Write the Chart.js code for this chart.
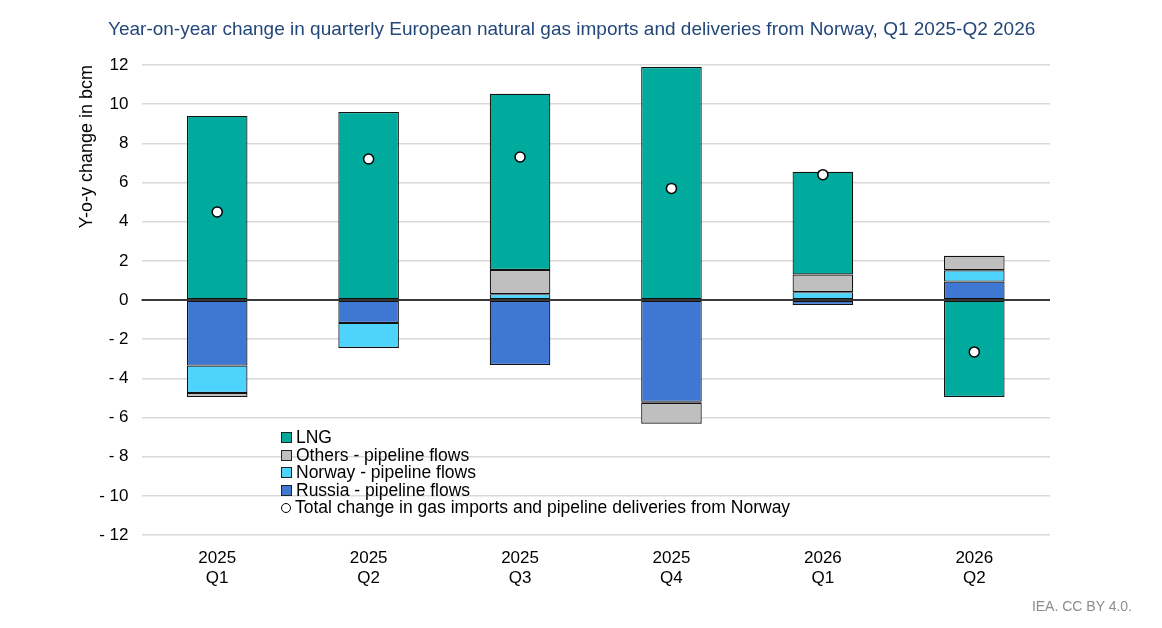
<!DOCTYPE html>
<html>
<head>
<meta charset="utf-8">
<script src="https://cdn.jsdelivr.net/npm/chart.js@4.4.1/dist/chart.umd.min.js"></script>
<style>
  html, body { margin: 0; padding: 0; background: #fff; }
  #wrap { position: relative; width: 1162px; height: 628px; font-family: "Liberation Sans", Arial, sans-serif; }
  #title { position: absolute; left: 108px; top: 18px; font-size: 19px; color: #24477A; white-space: nowrap; }
  #legend { position: absolute; left: 281px; top: 429px; font-size: 17.5px; color: #000; line-height: 17.5px; }
  #legend div { display: flex; align-items: center; white-space: nowrap; }
  #legend .sw { width: 9px; height: 9px; border: 1px solid #222; margin-right: 4px; }
  #legend .dot { width: 8px; height: 8px; border: 1.5px solid #000; border-radius: 50%; margin-right: 4px; background: #fff; }
  #source { position: absolute; right: 30px; top: 598px; font-size: 14px; color: #8c8c8c; }
</style>
</head>
<body>
<div id="wrap">
  <canvas id="c" width="1162" height="628"></canvas>
  <div id="title">Year-on-year change in quarterly European natural gas imports and deliveries from Norway, Q1 2025-Q2 2026</div>
  <div id="legend"></div>
  <div id="source">IEA. CC BY 4.0.</div>
</div>
<script>
// quarters on the x axis
const years = ['2025', '2025', '2025', '2025', '2026', '2026'];
const quarters = ['Q1', 'Q2', 'Q3', 'Q4', 'Q1', 'Q2'];

// y-o-y change in bcm
const russia = [-3.35, -1.17, -3.32, -5.2, -0.25, 0.94];
const norway = [-1.4, -1.28, 0.3, -0.05, 0.4, 0.58];
const others = [-0.2, null, 1.23, -1.07, 0.9, 0.74];
const lng = [9.4, 9.6, 9.0, 11.9, 5.25, -4.95];
const total = [4.5, 7.2, 7.3, 5.7, 6.4, -2.65];

const colors = {
    lng: '#00AA9D',
    others: '#BFBFBF',
    norway: '#4DD3FC',
    russia: '#3E78D3'
};

const labels = years.map((y, i) => [y, quarters[i]]);

// legend, same order as the reference (top to bottom)
const legendItems = [
    { text: 'LNG', color: colors.lng },
    { text: 'Others - pipeline flows', color: colors.others },
    { text: 'Norway - pipeline flows', color: colors.norway },
    { text: 'Russia - pipeline flows', color: colors.russia }
];
const legendEl = document.getElementById('legend');
legendItems.forEach(item => {
    const row = document.createElement('div');
    row.innerHTML = `<span class="sw" style="background:${item.color}"></span><span>${item.text}</span>`;
    legendEl.appendChild(row);
});
const totRow = document.createElement('div');
totRow.innerHTML = '<span class="dot"></span><span>Total change in gas imports and pipeline deliveries from Norway</span>';
legendEl.appendChild(totRow);

// zero line drawn over the bars
const zeroLine = {
    id: 'zeroLine',
    afterDatasetsDraw(chart) {
        const y = chart.scales.y.getPixelForValue(0);
        const ctx = chart.ctx;
        ctx.save();
        ctx.strokeStyle = '#000';
        ctx.lineWidth = 1.5;
        ctx.beginPath();
        ctx.moveTo(chart.chartArea.left, y);
        ctx.lineTo(chart.chartArea.right, y);
        ctx.stroke();
        ctx.restore();
    }
};

const barDs = (label, data, color) => ({
    type: 'bar',
    label,
    data,
    backgroundColor: color,
    borderColor: '#111',
    borderWidth: 1.2,
    borderSkipped: false,
    barPercentage: 0.4,
    categoryPercentage: 1,
    order: 2
});

Chart.defaults.font.family = '"Liberation Sans", Arial, sans-serif';
Chart.defaults.color = '#000';

new Chart(document.getElementById('c').getContext('2d'), {
    data: {
        labels,
        datasets: [
            barDs('Russia - pipeline flows', russia, colors.russia),
            barDs('Norway - pipeline flows', norway, colors.norway),
            barDs('Others - pipeline flows', others, colors.others),
            barDs('LNG', lng, colors.lng),
            {
                type: 'line',
                label: 'Total change in gas imports and pipeline deliveries from Norway',
                data: total,
                stack: 'total',
                showLine: false,
                pointRadius: 5,
                pointBackgroundColor: '#fff',
                pointBorderColor: '#000',
                pointBorderWidth: 1.5,
                order: 0
            }
        ]
    },
    options: {
        responsive: false,
        animation: false,
        layout: { padding: { left: 72, top: 65, right: 112, bottom: 33 } },
        plugins: {
            legend: { display: false },
            tooltip: { enabled: false }
        },
        scales: {
            x: {
                stacked: true,
                grid: { display: false, drawTicks: false },
                border: { display: false },
                ticks: { font: { size: 17 }, padding: 13, maxRotation: 0 },
                afterFit(scale) { scale.height = 60; }
            },
            y: {
                stacked: true,
                min: -12,
                max: 12,
                border: { display: false },
                grid: { color: '#D9D9D9', lineWidth: 1.5, drawTicks: false },
                ticks: {
                    stepSize: 2,
                    padding: 13,
                    font: { size: 17 },
                    callback: v => v < 0 ? '- ' + Math.abs(v) : String(v)
                },
                title: {
                    display: true,
                    text: 'Y-o-y change in bcm',
                    align: 'end',
                    font: { size: 18 },
                    padding: { top: 4, bottom: 4 }
                },
                afterFit(scale) { scale.width = 69.5; }
            }
        }
    },
    plugins: [zeroLine]
});
</script>
</body>
</html>
